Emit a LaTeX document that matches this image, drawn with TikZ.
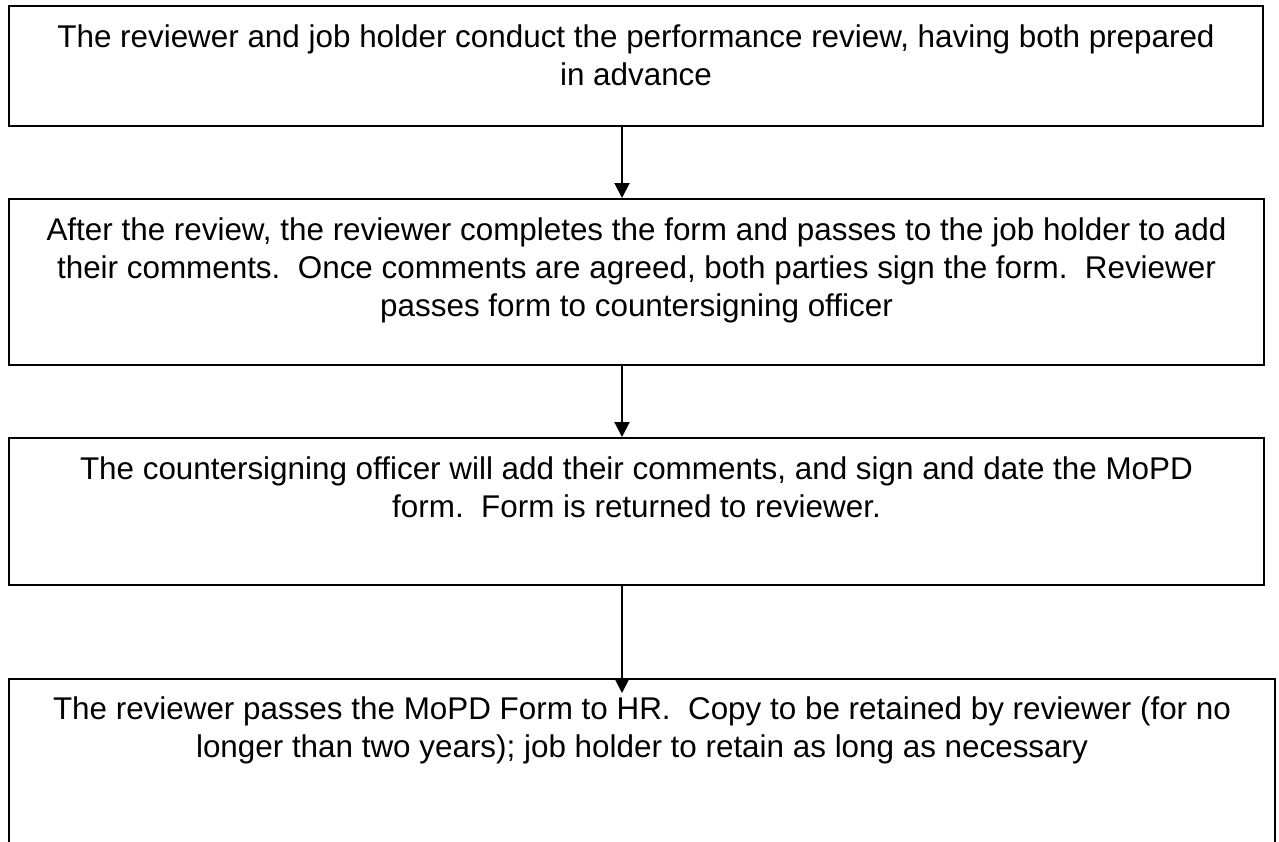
\documentclass[tikz,border=0pt]{standalone}
\usepackage{fontspec}
\setmainfont{Liberation Sans}
\usetikzlibrary{arrows.meta}
\begin{document}
\begin{tikzpicture}[x=1pt,y=-1pt,
  stepbox/.style={draw=black, line width=2pt, inner sep=0pt, anchor=north west},
  steptext/.style={anchor=north, inner sep=0pt, align=center, font=\fontsize{31.4}{38}\selectfont},
  arr/.style={line width=2pt, -{Triangle[width=15pt,length=15pt]}}]
\useasboundingbox (0,0) rectangle (1279,841);
\clip (0,0) rectangle (1279,841);
\fill[white] (0,0) rectangle (1279,841);
\coordinate (ax) at (622,0);
\node[stepbox, minimum width=1254pt, minimum height=120pt] (b1) at (8,5) {};
\node[stepbox, minimum width=1255pt, minimum height=166pt] (b2) at (8,198) {};
\node[stepbox, minimum width=1255pt, minimum height=147pt] (b3) at (8,437) {};
\node[stepbox, minimum width=1266pt, minimum height=260pt] (b4) at (8,678) {};
\node[steptext] (t1) at ([yshift=-20pt]b1.north) {The reviewer and job holder conduct the performance review, having both prepared\\in advance};
\node[steptext] (t2) at ([yshift=-20pt]b2.north) {After the review, the reviewer completes the form and passes to the job holder to add\\their comments.\ \ Once comments are agreed, both parties sign the form.\ \ Reviewer\\passes form to countersigning officer};
\node[steptext] (t3) at ([yshift=-20pt]b3.north) {The countersigning officer will add their comments, and sign and date the MoPD\\form.\ \ Form is returned to reviewer.};
\node[steptext] (t4) at ([yshift=-19pt]b4.north) {The reviewer passes the MoPD Form to HR.\ \ Copy to be retained by reviewer (for no\\longer than two years); job holder to retain as long as necessary};
\draw[arr] (b1.south -| ax) -- (b2.north -| ax);
\draw[arr] (b2.south -| ax) -- (b3.north -| ax);
\draw[arr, shorten >=-15pt] (b3.south -| ax) -- (b4.north -| ax);
\end{tikzpicture}
\end{document}
